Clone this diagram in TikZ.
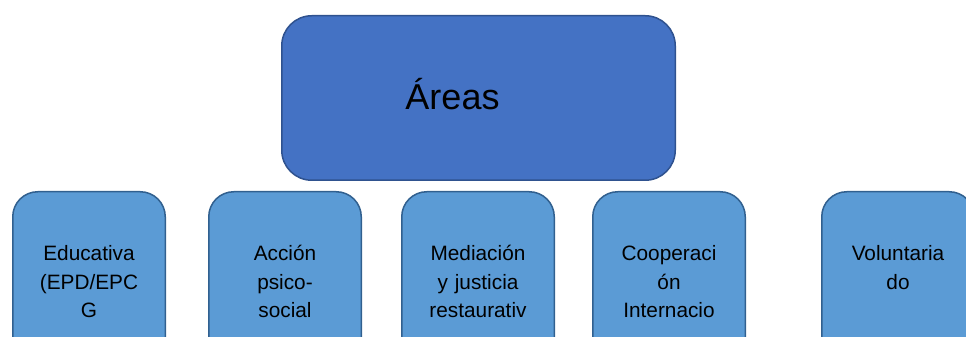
\documentclass[tikz,border=0pt]{standalone}
\usepackage{fontspec}
\setmainfont{Liberation Sans}
\usetikzlibrary{positioning}
\definecolor{topblue}{HTML}{4472C4}
\definecolor{topedge}{HTML}{2F528F}
\definecolor{subblue}{HTML}{5B9BD5}
\definecolor{subedge}{HTML}{31608F}

\begin{document}
\begin{tikzpicture}
    [
        x=1pt, y=1pt, node distance=42pt,
        main_node/.style={rectangle, rounded corners=30pt, draw=topedge, fill=topblue, line width=1.5pt, minimum width=393.5pt, minimum height=164.5pt, text height=30pt, text depth=6pt, font=\fontsize{36}{40}\selectfont},
        area_node/.style={rectangle, rounded corners=25pt, draw=subedge, fill=subblue, line width=1.5pt, minimum width=152.5pt, minimum height=180pt, text width=140pt, align=center, font=\fontsize{20.8}{28.5}\selectfont},
    ]
        \useasboundingbox (0,0) rectangle (966,337) ;
        \clip (0,0) rectangle (966,337) ;
        \node[main_node] (areas) at (478.5,239) {Áreas\kern52pt} ;
        \node[area_node, anchor=north west] (edu) at (12,146) {Educativa\\(EPD/EPC\\G} ;
        \node[area_node] (psico) [right=42pt of edu] {Acción\\psico-\\social} ;
        \node[area_node] (media) [right=39pt of psico] {Mediación\\y justicia\\restaurativ} ;
        \node[area_node] (coop) [right=37pt of media] {Cooperaci\\ón\\Internacio} ;
        \node[area_node] (volun) [right=75pt of coop] {Voluntaria\\do\\\mbox{}} ;
    \end{tikzpicture}
\end{document}
